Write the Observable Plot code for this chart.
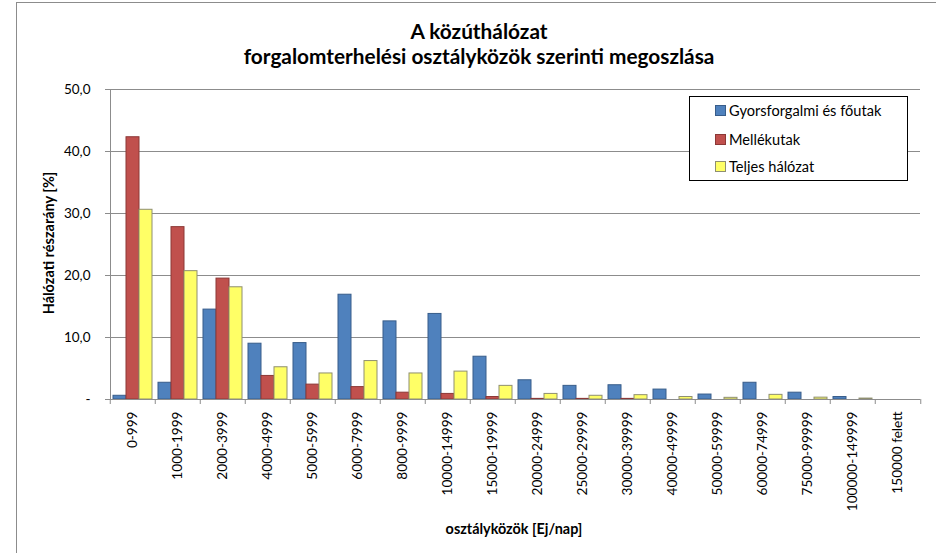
<!DOCTYPE html>
<html><head><meta charset="utf-8">
<script src="https://cdn.jsdelivr.net/npm/d3@7"></script>
<script src="https://cdn.jsdelivr.net/npm/@observablehq/plot@0.6"></script>
<style>
html,body{margin:0;padding:0;background:#fff;overflow:hidden}
#chart{position:relative;width:936px;height:553px;overflow:hidden;font-family:Lato,"Open Sans",sans-serif;color:#000}
#border{position:absolute;left:16px;top:2px;width:960px;height:600px;border:1px solid #8c8c8c;box-sizing:border-box}
#plot{position:absolute;left:0;top:0}
#plot g[aria-label="y-axis tick label"]{fill:#000}
.title{position:absolute;left:0;width:958px;text-align:center;font-weight:bold;font-size:20.8px;line-height:25px;white-space:nowrap}
#ytitle{position:absolute;left:48px;top:243px;transform:translate(-50%,-50%) rotate(-90deg);font-weight:bold;font-size:14.5px;line-height:17px;white-space:nowrap}
#xtitle{position:absolute;left:514px;top:520px;transform:translateX(-50%);font-weight:bold;font-size:14.4px;line-height:17px;white-space:nowrap}
#legend{position:absolute;left:689px;top:96px;width:219px;height:85px;border:1px solid #000;box-sizing:border-box;background:#fff}
.lrow{position:absolute;left:25px;height:18px;display:flex;align-items:center;font-size:14.6px;white-space:nowrap}
.sw{width:9px;height:9px;border:1px solid;margin-right:3px}
</style></head><body>
<div id="chart">
  <div id="border"></div>
  <div id="plot"></div>
  <div class="title" style="top:18px">A közúthálózat<br>forgalomterhelési osztályközök szerinti megoszlása</div>
  <div id="ytitle">Hálózati részarány [%]</div>
  <div id="xtitle">osztályközök [Ej/nap]</div>
  <div id="legend"></div>
</div>
<script>
const categories = ["0-999","1000-1999","2000-3999","4000-4999","5000-5999","6000-7999","8000-9999","10000-14999","15000-19999","20000-24999","25000-29999","30000-39999","40000-49999","50000-59999","60000-74999","75000-99999","100000-149999","150000 felett"];
const seriesNames = ["Gyorsforgalmi és főutak","Mellékutak","Teljes hálózat"];
const gyorsValues  = [0.6, 2.7, 14.5, 9.0, 9.1, 16.9, 12.6, 13.8, 6.9, 3.1, 2.2, 2.3, 1.6, 0.8, 2.7, 1.1, 0.4, 0];
const mellekValues = [42.3, 27.8, 19.5, 3.8, 2.4, 2.0, 1.1, 0.9, 0.4, 0.1, 0.1, 0.1, 0, 0, 0, 0, 0, 0];
const teljesValues = [30.6, 20.7, 18.1, 5.2, 4.2, 6.2, 4.2, 4.5, 2.2, 0.9, 0.6, 0.7, 0.4, 0.27, 0.75, 0.3, 0.15, 0];
const yTicks = [0, 10, 20, 30, 40, 50];
const fills = ["#4F81BD", "#C0504D", "#FFFF66"];
const strokes = ["#385D8A", "#8C3836", "#8F8F70"];

const seriesValues = [gyorsValues, mellekValues, teljesValues];
const rows = seriesNames.flatMap((s, si) => categories.map((c, ci) => ({cat: c, series: s, value: seriesValues[si][ci]})));

const W = 936, H = 553, mL = 105, mR = 12, mT = 89, mB = 154;
const bw = (W - mL - mR) / categories.length;

const plot = Plot.plot({
  width: W, height: H, marginLeft: mL, marginRight: mR, marginTop: mT, marginBottom: mB,
  style: {fontFamily: "Lato, 'Open Sans', sans-serif", fontSize: "13.5px", color: "#8c8c8c", background: "transparent", overflow: "visible"},
  fx: {domain: categories, padding: 0, label: null},
  x: {domain: seriesNames, paddingInner: 0, paddingOuter: 0.21, axis: null},
  y: {domain: [0, 50], ticks: yTicks, tickFormat: d => d === 0 ? "-" : d.toFixed(1).replace(".", ","), tickSize: 5, tickPadding: 15, label: null, line: true},
  marks: [
    Plot.gridY(yTicks.filter(d => d > 0), {stroke: "#8c8c8c", strokeOpacity: 1}),
    ...seriesNames.map((s, i) => Plot.barY(rows, {filter: d => d.series === s && d.value > 0, fx: "cat", x: "series", y: "value", fill: fills[i], stroke: strokes[i], strokeWidth: 1})),
    Plot.ruleY([0], {stroke: "#8c8c8c"}),
    Plot.axisFx({anchor: "bottom", tickSize: 0, tickPadding: 12, tickRotate: -90, fontSize: 13.6, fill: "#000", label: null}),
    Plot.axisFx({anchor: "bottom", tickSize: 5, tickFormat: () => "", dx: -bw / 2, stroke: "#8c8c8c", label: null}),
    Plot.axisFx({anchor: "bottom", ticks: [categories[categories.length - 1]], tickSize: 5, tickFormat: () => "", dx: bw / 2, stroke: "#8c8c8c", label: null})
  ]
});
document.getElementById("plot").appendChild(plot);

const legend = document.getElementById("legend");
const rowTops = [4, 33, 60];
seriesNames.forEach((s, i) => {
  const r = document.createElement("div");
  r.className = "lrow";
  r.style.top = rowTops[i] + "px";
  const sw = document.createElement("span");
  sw.className = "sw";
  sw.style.background = fills[i];
  sw.style.borderColor = strokes[i];
  r.appendChild(sw);
  r.appendChild(document.createTextNode(s));
  legend.appendChild(r);
});
</script>
</body></html>
